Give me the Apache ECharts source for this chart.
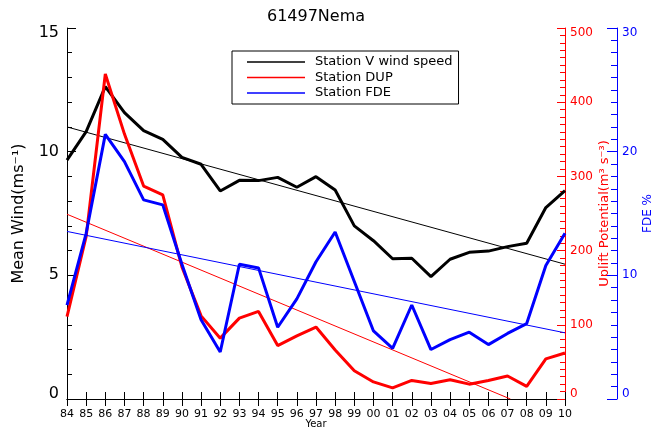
<!DOCTYPE html>
<html><head><meta charset="utf-8">
<script src="https://cdn.jsdelivr.net/npm/echarts@6/dist/echarts.min.js"></script>
<style>html,body{margin:0;padding:0;background:#fff}#c{width:655px;height:432px}</style>
</head><body><div id="c"></div>
<script>
const years = [1984,1985,1986,1987,1988,1989,1990,1991,1992,1993,1994,1995,1996,1997,1998,1999,2000,2001,2002,2003,2004,2005,2006,2007,2008,2009,2010];
const windSpeed = [9.66,10.81,12.63,11.58,10.85,10.5,9.77,9.49,8.41,8.84,8.83,8.96,8.56,8.99,8.45,7.0,6.4,5.67,5.69,4.95,5.65,5.93,5.98,6.16,6.3,7.74,8.42];
const dup = [111,219,438,357,287,275,178,112,82,109,118,72,85,97,66,38,23,15,25,21,26,20,25,31,17,54,62];
const fde = [7.6,13.4,21.4,19.2,16.1,15.7,10.9,6.4,3.8,10.9,10.6,5.8,8.1,11.1,13.5,9.5,5.5,4.1,7.6,4.0,4.8,5.4,4.4,5.3,6.1,10.8,13.4];
const windTrend = [[1984, 11.0], [2010, 5.45]];
const dupTrend = [[1984, 249], [2007.15, 0]];
const fdeTrend = [[1984, 13.55], [2010, 5.35]];
const names = ['Station V wind speed', 'Station DUP', 'Station FDE'];

const BLACK = '#000000', RED = '#ff0000', BLUE = '#0000ff';
function edgeLabels(min, max, color, size) {
  return {
    color: color, fontSize: size, fontFamily: 'DejaVu Sans',
    formatter: v => v === min ? '{lo|' + v + '}' : (v === max ? '{hi|' + v + '}' : '' + v),
    rich: {
      lo: {color: color, fontSize: size, fontFamily: 'DejaVu Sans', padding: [0, 0, 10, 0]},
      hi: {color: color, fontSize: size, fontFamily: 'DejaVu Sans', padding: [10, 0, 0, 0]}
    }
  };
}
function legendItem(name, color) {
  return {name: name, icon: 'rect',
    itemStyle: {color: color, borderColor: color, borderWidth: 0, opacity: 1},
    lineStyle: {color: color, width: 1}};
}
const chart = echarts.init(document.getElementById('c'), null, {renderer: 'canvas'});
const pair = arr => years.map((y, i) => [y, arr[i]]);
chart.setOption({
  animation: false,
  backgroundColor: '#fff',
  textStyle: {fontFamily: 'DejaVu Sans'},
  title: {text: '61497Nema', left: 311, top: 4, textAlign: 'center',
    textStyle: {fontSize: 16, fontWeight: 'normal', color: BLACK, fontFamily: 'DejaVu Sans'}},
  grid: {left: 67, right: 90, top: 28, bottom: 33, containLabel: false, outerBoundsMode: 'none'},
  legend: {
    data: [legendItem(names[0], BLACK), legendItem(names[1], RED), legendItem(names[2], BLUE)],
    orient: 'vertical', left: 232, top: 51, icon: 'rect',
    itemWidth: 58, itemHeight: 1.5, itemGap: 1.5, selectedMode: false,
    itemStyle: {borderWidth: 0},
    borderColor: BLACK, borderWidth: 1, padding: [4, 6, 4, 15],
    textStyle: {fontSize: 13, color: BLACK, lineHeight: 14, padding: [0, 0, 0, 5], fontFamily: 'DejaVu Sans'}
  },
  xAxis: [
    {type: 'value', min: 1984, max: 2010, interval: 1, position: 'bottom',
     name: 'Year', nameLocation: 'middle', nameGap: 20, nameMoveOverlap: false,
     nameTextStyle: {fontSize: 10, color: BLACK},
     axisLine: {show: true, lineStyle: {color: BLACK, width: 1}},
     axisTick: {show: true, inside: true, length: 7, lineStyle: {color: BLACK}},
     axisLabel: {fontSize: 11, color: BLACK, margin: 10, formatter: v => String(v % 100).padStart(2, '0')},
     splitLine: {show: false}},
    {type: 'value', min: 1984, max: 2010, interval: 1, position: 'top',
     axisLine: {show: true, lineStyle: {color: BLACK, width: 1}},
     axisTick: {show: true, inside: true, length: 7, lineStyle: {color: BLACK}},
     axisLabel: {show: false}, splitLine: {show: false}}
  ],
  yAxis: [
    {type: 'value', min: 0, max: 15, interval: 5, position: 'left',
     name: 'Mean Wind(ms⁻¹)', nameLocation: 'middle', nameGap: 40, nameRotate: 90, nameMoveOverlap: false,
     nameTextStyle: {fontSize: 16, color: BLACK},
     axisLine: {show: true, lineStyle: {color: BLACK, width: 1}},
     axisTick: {show: true, inside: true, length: 9, lineStyle: {color: BLACK}},
     minorTick: {show: true, splitNumber: 5, length: 5, lineStyle: {color: BLACK}},
     axisLabel: Object.assign(edgeLabels(0, 15, BLACK, 16), {margin: 8}),
     splitLine: {show: false}, minorSplitLine: {show: false}},
    {type: 'value', min: 0, max: 500, interval: 100, position: 'right', offset: 0,
     name: 'Uplift Potential(m³ s⁻³)', nameLocation: 'middle', nameGap: 33, nameRotate: 90, nameMoveOverlap: false,
     nameTextStyle: {fontSize: 13, color: RED},
     axisLine: {show: true, lineStyle: {color: RED, width: 1}},
     axisTick: {show: true, inside: true, length: 8, lineStyle: {color: RED}},
     minorTick: {show: true, splitNumber: 10, length: 5, lineStyle: {color: RED}},
     axisLabel: Object.assign(edgeLabels(0, 500, RED, 12), {margin: 5}),
     splitLine: {show: false}, minorSplitLine: {show: false}},
    {type: 'value', min: 0, max: 30, interval: 10, position: 'right', offset: 52,
     name: 'FDE %', nameLocation: 'middle', nameGap: 25, nameRotate: 90, nameMoveOverlap: false,
     nameTextStyle: {fontSize: 12, color: BLUE},
     axisLine: {show: true, lineStyle: {color: BLUE, width: 1}},
     axisTick: {show: true, inside: true, length: 10, lineStyle: {color: BLUE}},
     minorTick: {show: true, splitNumber: 10, length: 6, lineStyle: {color: BLUE}},
     axisLabel: Object.assign(edgeLabels(0, 30, BLUE, 12), {margin: 5}),
     splitLine: {show: false}, minorSplitLine: {show: false}}
  ],
  series: [
    {name: names[0], type: 'line', yAxisIndex: 0, data: pair(windSpeed), symbol: 'none',
     lineStyle: {color: BLACK, width: 3}, itemStyle: {color: BLACK}, z: 3},
    {name: 'windTrend', type: 'line', yAxisIndex: 0, data: windTrend, symbol: 'none',
     lineStyle: {color: BLACK, width: 1}, itemStyle: {color: BLACK}, z: 3},
    {name: names[1], type: 'line', yAxisIndex: 1, data: pair(dup), symbol: 'none',
     lineStyle: {color: RED, width: 3}, itemStyle: {color: RED}, z: 3},
    {name: 'dupTrend', type: 'line', yAxisIndex: 1, data: dupTrend, symbol: 'none',
     lineStyle: {color: RED, width: 1}, itemStyle: {color: RED}, z: 3},
    {name: names[2], type: 'line', yAxisIndex: 2, data: pair(fde), symbol: 'none',
     lineStyle: {color: BLUE, width: 3}, itemStyle: {color: BLUE}, z: 3},
    {name: 'fdeTrend', type: 'line', yAxisIndex: 2, data: fdeTrend, symbol: 'none',
     lineStyle: {color: BLUE, width: 1}, itemStyle: {color: BLUE}, z: 3}
  ]
});
</script></body></html>
